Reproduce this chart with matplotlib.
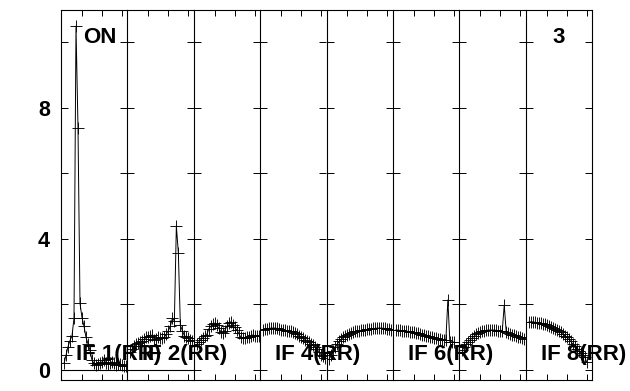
import matplotlib
matplotlib.use('Agg')
import matplotlib.pyplot as plt
import numpy as np

# Amplitude per channel for each IF (RR)
if1 = [0.2, 0.45, 0.71, 0.9, 1.04, 1.58, 10.5, 7.4, 2.04, 1.6, 1.34, 1.0, 0.8, 0.6, 0.3, 0.2,
       0.15, 0.18, 0.2, 0.25, 0.3, 0.22, 0.18, 0.2, 0.25, 0.2, 0.15, 0.17, 0.18, 0.15, 0.13, 0.12]
if2 = [0.55, 0.65, 0.72, 0.78, 0.82, 0.85, 0.9, 0.95, 1.0, 1.02, 1.05, 1.07, 0.92, 0.95, 1.0, 0.98,
       0.97, 1.0, 1.1, 1.2, 1.34, 1.58, 1.5, 4.4, 3.57, 1.37, 1.2, 1.05, 1.0, 0.97, 0.92, 0.88]
if3 = [0.78, 0.85, 0.92, 0.98, 1.03, 1.08, 1.25, 1.34, 1.4, 1.43, 1.38, 1.28, 1.17, 1.13, 1.2, 1.33,
       1.43, 1.47, 1.37, 1.3, 1.22, 1.12, 1.0, 0.97, 0.98, 1.0, 1.0, 1.03, 1.07, 1.05, 1.05, 1.04]
if4 = [1.22, 1.24, 1.26, 1.27, 1.28, 1.28, 1.28, 1.27, 1.25, 1.23, 1.22, 1.21, 1.2, 1.19, 1.18, 1.17,
       1.13, 1.09, 1.05, 1.01, 0.97, 0.93, 0.89, 0.85, 0.8, 0.76, 0.7, 0.63, 0.55, 0.47, 0.42, 0.37]
if5 = [0.35, 0.46, 0.58, 0.7, 0.8, 0.88, 0.95, 1.0, 1.04, 1.08, 1.11, 1.14, 1.16, 1.18, 1.19, 1.2,
       1.21, 1.22, 1.23, 1.24, 1.25, 1.26, 1.27, 1.27, 1.28, 1.28, 1.28, 1.27, 1.27, 1.26, 1.24, 1.22]
if6 = [1.22, 1.22, 1.21, 1.2, 1.2, 1.19, 1.18, 1.17, 1.16, 1.15, 1.13, 1.12, 1.1, 1.08, 1.07, 1.05,
       1.04, 1.02, 1.0, 0.99, 0.97, 0.96, 0.95, 0.93, 0.92, 0.91, 2.14, 0.87, 0.86, 0.85]
if7 = [0.6, 0.7, 0.78, 0.86, 0.92, 0.98, 1.04, 1.09, 1.13, 1.17, 1.19, 1.2, 1.21, 1.22, 1.22, 1.22,
       1.22, 1.21, 1.2, 1.2, 1.19, 1.98, 1.16, 1.13, 1.1, 1.08, 1.06, 1.04, 1.02, 1.0, 0.98, 0.96]
if8 = [1.46, 1.47, 1.47, 1.46, 1.45, 1.44, 1.43, 1.41, 1.39, 1.36, 1.33, 1.3, 1.27, 1.24, 1.21, 1.18,
       1.15, 1.1, 1.05, 1.0, 0.94, 0.88, 0.8, 0.72, 0.65, 0.58, 0.52, 0.46, 0.41, 0.25]

panels = [if1, if2, if3, if4, if5, if6, if7, if8]
if_labels = ["IF 1(RR)", "IF 2(RR)", None, "IF 4(RR)", None, "IF 6(RR)", None, "IF 8(RR)"]
zero_line_panels = [0, 1]
y_ticks = [0, 2, 4, 6, 8, 10]
y_ticklabels = ["0", "", "4", "", "8", ""]
x_ticks = [10, 20, 30]
source_label = "ON"
page_label = "3"

FONT = "Liberation Sans"

fig = plt.figure(figsize=(6.3, 3.91), dpi=100)
left, right = 61 / 630, 592 / 630
bottom, top = 1 - 380 / 391, 1 - 10 / 391
w = (right - left) / 8

for i, vals in enumerate(panels):
    ax = fig.add_axes([left + i * w, bottom, w, top - bottom])
    ch = np.arange(1, len(vals) + 1)
    if i in zero_line_panels:
        ax.axhline(0, color='black', lw=0.8)
    ax.plot(ch, vals, color='black', lw=0.7, marker='+', ms=8.6, mew=0.65)
    ax.set_xlim(-0.5, 32.7)
    ax.set_ylim(-0.305, 10.99)
    ax.set_yticks(y_ticks)
    ax.set_xticks(x_ticks)
    ax.set_xticklabels([])
    ax.tick_params(axis='y', direction='in', length=5, width=0.7, left=True, right=True,
                   labelleft=(i == 0), labelright=False, pad=8)
    ax.tick_params(axis='x', direction='in', length=4.5, width=0.7, top=True, bottom=True)
    if i == 0:
        ax.set_yticklabels(y_ticklabels, fontfamily=FONT, fontweight='bold', fontsize=15.5)
    else:
        ax.set_yticklabels([])
    for sp in ax.spines.values():
        sp.set_linewidth(0.8)
    if i < 7:
        ax.spines['right'].set_visible(False)
    ax.patch.set_alpha(0)
    lab = if_labels[i]
    if lab:
        ax.text(15 / 66.4, 20 / 370, lab, transform=ax.transAxes, fontfamily=FONT,
                fontweight='bold', fontsize=16, va='baseline', ha='left', zorder=5,
                clip_on=False)
    if i == 0:
        ax.text(22 / 66.4, 337 / 370, source_label, transform=ax.transAxes, fontfamily=FONT,
                fontweight='bold', fontsize=16, va='baseline', ha='left')
    if i == 7:
        ax.text(27 / 66.4, 337 / 370, page_label, transform=ax.transAxes, fontfamily=FONT,
                fontweight='bold', fontsize=16, va='baseline', ha='left')

fig.savefig('out.png', dpi=100)
